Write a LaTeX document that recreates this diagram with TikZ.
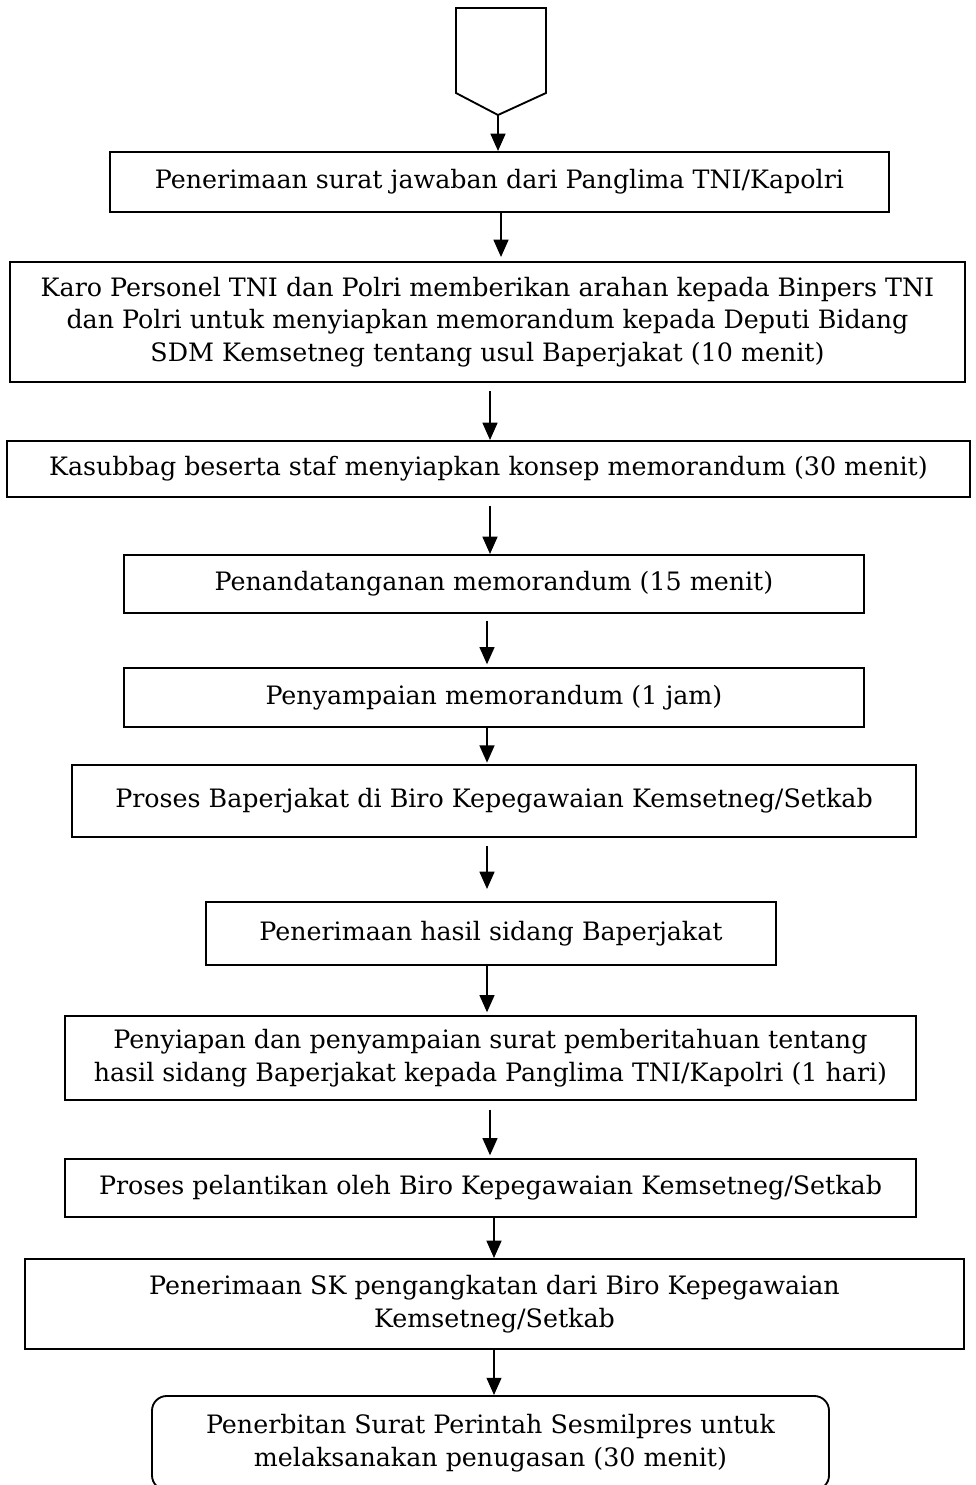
\documentclass[tikz,border=0pt]{standalone}
\usepackage{fontspec}
\setmainfont{DejaVu Serif}
\usetikzlibrary{arrows.meta}
\begin{document}
\begin{tikzpicture}[x=0.75pt,y=-0.75pt,
  box/.style={draw,line width=1.4pt,align=center,inner sep=0pt,font=\fontsize{19}{24.5}\selectfont},
  arr/.style={line width=1.8pt,-{Triangle[length=13pt,width=11pt]}}]
\useasboundingbox (0,0) rectangle (975,1485);
\fill[white] (0,0) rectangle (975,1485);
\draw[line width=1.4pt] (456,8) -- (546,8) -- (546,93) -- (498,115) -- (456,93) -- cycle;
\coordinate (tip) at (498,115);
\node[box,minimum width=584.25pt,minimum height=45pt] (b1) at (499.5,182) {Penerimaan surat jawaban dari Panglima TNI/Kapolri};
\node[box,minimum width=716.25pt,minimum height=90pt] (b2) at (487.5,322) {Karo Personel TNI dan Polri memberikan arahan kepada Binpers TNI\\dan Polri untuk menyiapkan memorandum kepada Deputi Bidang\\SDM Kemsetneg tentang usul Baperjakat (10 menit)};
\node[box,minimum width=722.25pt,minimum height=42pt] (b3) at (488.5,469) {Kasubbag beserta staf menyiapkan konsep memorandum (30 menit)};
\node[box,minimum width=555pt,minimum height=43.5pt] (b4) at (494,584) {Penandatanganan memorandum (15 menit)};
\node[box,minimum width=555pt,minimum height=44.25pt] (b5) at (494,697.5) {Penyampaian memorandum (1 jam)};
\node[box,minimum width=633pt,minimum height=54pt] (b6) at (494,801) {Proses Baperjakat di Biro Kepegawaian Kemsetneg/Setkab};
\node[box,minimum width=427.5pt,minimum height=47.25pt] (b7) at (491,933.5) {Penerimaan hasil sidang Baperjakat};
\node[box,minimum width=638.25pt,minimum height=63pt] (b8) at (490.5,1058) {Penyiapan dan penyampaian surat pemberitahuan tentang\\hasil sidang Baperjakat kepada Panglima TNI/Kapolri (1 hari)};
\node[box,minimum width=638.25pt,minimum height=43.5pt] (b9) at (490.5,1188) {Proses pelantikan oleh Biro Kepegawaian Kemsetneg/Setkab};
\node[box,minimum width=704.25pt,minimum height=67.5pt] (b10) at (494.5,1304) {Penerimaan SK pengangkatan dari Biro Kepegawaian\\Kemsetneg/Setkab};
\node[box,rounded corners=11pt,minimum width=507.75pt,minimum height=70.5pt] (b11) at (490.5,1443) {Penerbitan Surat Perintah Sesmilpres untuk\\melaksanakan penugasan (30 menit)};
\draw[arr] (tip) -- (tip |- b1.north);
\draw[arr] (b1.south -| 501,0) -- ([yshift=3pt]b2.north -| 501,0);
\draw[arr,shorten <=6pt] (b2.south -| 490,0) -- (b3.north -| 490,0);
\draw[arr,shorten <=6pt] (b3.south -| 490,0) -- (b4.north -| 490,0);
\draw[arr,shorten <=5pt] (b4.south -| 487,0) -- ([yshift=2pt]b5.north -| 487,0);
\draw[arr] (b5.south -| 487,0) -- ([yshift=1pt]b6.north -| 487,0);
\draw[arr,shorten <=6pt] (b6.south -| 487,0) -- ([yshift=9pt]b7.north -| 487,0);
\draw[arr] (b7.south -| 487,0) -- ([yshift=2pt]b8.north -| 487,0);
\draw[arr,shorten <=7pt] (b8.south -| 490,0) -- ([yshift=2pt]b9.north -| 490,0);
\draw[arr] (b9.south -| 494,0) -- (b10.north -| 494,0);
\draw[arr] (b10.south -| 494,0) -- (b11.north -| 494,0);
\end{tikzpicture}
\end{document}
